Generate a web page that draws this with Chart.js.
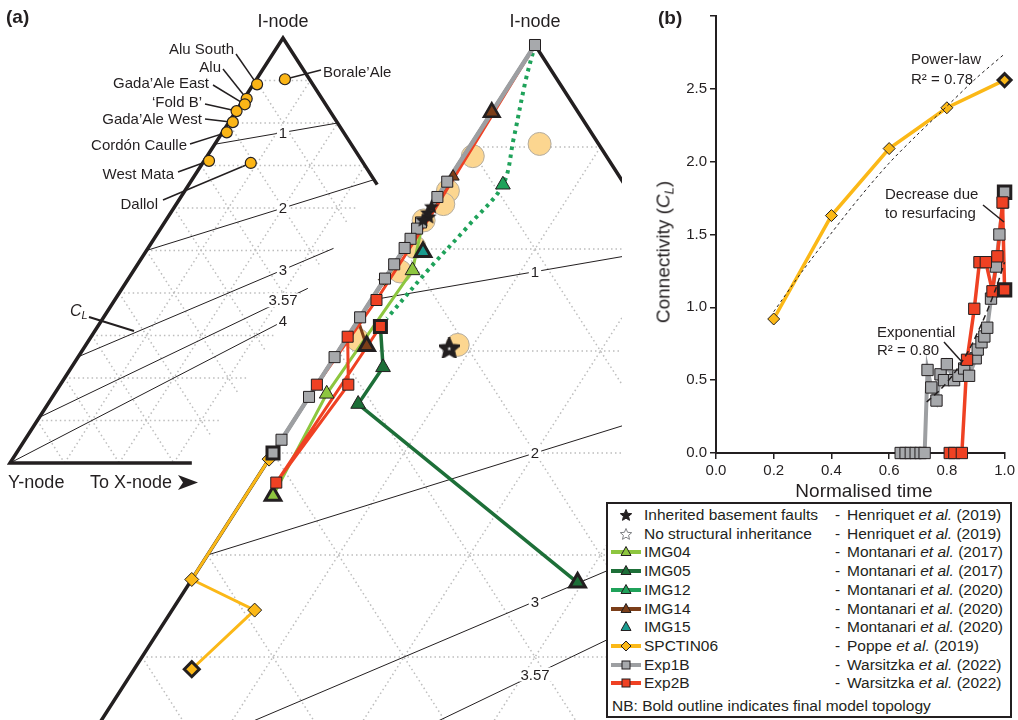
<!DOCTYPE html>
<html>
<head>
<meta charset="utf-8">
<title>Fault network connectivity</title>
<script src="https://cdn.jsdelivr.net/npm/chart.js@4.4.1/dist/chart.umd.min.js"></script>
<style>
  body { margin: 0; background: #fff; }
  #fig { position: relative; width: 1018px; height: 720px; overflow: hidden; font-family: "Liberation Sans", Arial, sans-serif; color: #231f20; }
  #fig canvas { position: absolute; }
  .t { position: absolute; white-space: nowrap; font-size: 15px; line-height: 1; }
  #legend { position: absolute; left: 606px; top: 502px; width: 402px; height: 212px; border: 2px solid #231f20; background: #fff; }
  #legend svg { position: absolute; }
  sub { font-size: 0.68em; vertical-align: -0.3em; line-height: 0; }
</style>
</head>
<body>
<div id="fig">
  <canvas id="bigTri" width="622" height="720" style="left:0;top:0"></canvas>
  <canvas id="smallTri" width="400" height="500" style="left:0;top:0"></canvas>
  <canvas id="connChart" width="378" height="500" style="left:640px;top:0"></canvas>
  <div id="legend"></div>
</div>
<script>
// ---------- panel (a): node proportions in %, each point is [I, Y, X] ----------
const naturalNames = ["Borale\u2019Ale", "Alu South", "Alu", "Gada\u2019Ale East", "\u2018Fold B\u2019",
  "Gada\u2019Ale West", "Cord\u00f3n Caulle", "West Mata", "Dallol"];
const naturalNodes = [[90.3, 4.5, 5.2], [89.1, 10.2, 0.7], [85.7, 13.8, 0.5], [84.4, 14.8, 0.8], [82.8, 17.1, 0.1],
  [80.2, 19.1, 0.7], [77.8, 21.4, 0.8], [71.1, 28.0, 0.9], [70.6, 20.6, 8.8]];
const inheritedFaults = [[84.2, 15.8, 0], [83.6, 16.4, 0], [83.2, 16.5, 0.3], [82.9, 17.1, 0]];
const noInheritance = [[70.3, 21.4, 8.3]];
const img04 = [[83.0, 17.0, 0], [77.9, 20.4, 1.7], [65.8, 33.0, 1.2], [55.8, 42.1, 2.1]];
const img05 = [[72.4, 25.6, 2.0], [68.4, 27.4, 4.2], [64.8, 31.1, 4.1], [47.3, 23.1, 29.6]];
const img12 = [[100, 0, 0], [96.6, 2.4, 1.0], [90.7, 6.3, 3.0], [86.3, 9.3, 4.4], [82.4, 13.8, 3.8], [78.1, 19.0, 2.9], [73.2, 24.7, 2.1]];
const img14 = [[100, 0, 0], [93.4, 6.6, 0], [87.1, 12.7, 0.2], [73.0, 27.0, 0], [70.5, 27.6, 1.9]];
const img15 = [[79.7, 18.7, 1.6]];
const spctin06 = [[77.0, 23.0, 0], [59.4, 40.6, 0], [47.6, 52.4, 0], [44.6, 49.1, 6.3], [38.8, 56.8, 4.4]];
const exp1b = [[100, 0, 0], [86.6, 13.4, 0], [85.1, 14.9, 0], [82.6, 17.4, 0], [82.0, 18.0, 0], [81.0, 19.0, 0], [80.1, 19.9, 0],
  [78.5, 21.5, 0], [77.1, 22.9, 0], [73.3, 26.7, 0], [69.4, 30.6, 0], [65.5, 34.5, 0], [61.3, 38.7, 0], [60.0, 40.0, 0]];
const exp2b = [[100, 0, 0], [84.0, 15.6, 0.4], [75.0, 24.6, 0.4], [66.7, 33.3, 0], [71.4, 28.6, 0], [66.7, 30.9, 2.4],
  [57.1, 41.2, 1.7], [72.4, 25.6, 2.0]];
const clSmall = [1, 2, 3, 3.57, 4];
const clBig = [1, 2, 3, 3.57];

// ---------- panel (b): connectivity through normalised time ----------
const spcTime = [0.2, 0.4, 0.6, 0.8, 1.0];
const spcCL = [0.92, 1.63, 2.09, 2.37, 2.56];
const exp1bTime = [0.64, 0.657, 0.675, 0.692, 0.709, 0.723, 0.733, 0.746, 0.764, 0.778, 0.79, 0.80, 0.825, 0.84,
  0.86, 0.877, 0.90, 0.907, 0.92, 0.93, 0.94, 0.953, 0.97, 0.982, 0.995, 1.0];
const exp1bCL = [0, 0, 0, 0, 0, 0, 0.57, 0.45, 0.36, 0.54, 0.50, 0.61, 0.50, 0.53, 0.58, 0.53, 0.65, 0.71, 0.76,
  0.80, 0.86, 1.06, 1.28, 1.50, 1.72, 1.79];
const exp2bTime = [0.81, 0.826, 0.852, 0.87, 0.895, 0.913, 0.935, 0.958, 0.975, 0.993, 1.0];
const exp2bCL = [0, 0, 0, 0.64, 0.99, 1.31, 1.31, 1.11, 1.35, 1.72, 1.12];
const powerTime = [0.2, 0.3, 0.4, 0.5, 0.6, 0.7, 0.8, 0.9, 1.0];
const powerCL = [0.97, 1.25, 1.51, 1.76, 1.99, 2.19, 2.38, 2.57, 2.74];
const expoTime = [0.73, 0.78, 0.83, 0.88, 0.93, 0.97, 1.0];
const expoCL = [0.35, 0.44, 0.56, 0.72, 0.93, 1.13, 1.31];

const FONT = '"Liberation Sans", Arial, sans-serif';
const INK = "#231f20";
Chart.defaults.font.family = FONT;
Chart.defaults.color = INK;

const col = {
  img04: "#8dc63f", img05: "#1d6f38", img12: "#1fa25a", img14: "#7b3e19", img15: "#1a9b8f",
  spc: "#fbb817", exp1b: "#9d9fa2", exp2b: "#ef4123", grid: "#bdbdbd"
};

// ternary -> cartesian (Y-node at 0,0, X-node at 1,0, I-node at 0.5,1)
function pt(p) { return { x: p[2] / 100 + p[0] / 200, y: p[0] / 100 }; }

function lineDs(points, color, width, dash, extra) {
  return Object.assign({ data: points.map(pt), showLine: true, borderColor: color, borderWidth: width,
    borderDash: dash || [], pointRadius: 0, fill: false, tension: 0, clip: false }, extra || {});
}
function markerDs(points, style, fill, border, radius, bw) {
  return { data: points.map(pt), showLine: false, pointStyle: style, pointRadius: radius,
    pointBackgroundColor: fill, pointBorderColor: border, pointBorderWidth: bw, clip: false };
}
function starImg(size, fill, stroke, lw) {
  const c = document.createElement("canvas");
  c.width = c.height = size;
  const g = c.getContext("2d");
  const r = size / 2 - lw / 2 - 0.5, r2 = r * 0.45, cx = size / 2, cy = size / 2 + 0.8;
  g.beginPath();
  for (let i = 0; i < 10; i++) {
    const a = -Math.PI / 2 + i * Math.PI / 5, rr = i % 2 ? r2 : r;
    g.lineTo(cx + rr * Math.cos(a), cy + rr * Math.sin(a));
  }
  g.closePath();
  g.fillStyle = fill; g.fill();
  if (lw) { g.lineWidth = lw; g.strokeStyle = stroke; g.lineJoin = "miter"; g.stroke(); }
  return c;
}

// contour of constant C_L = 4(Y+X)/(I+Y): from the I-Y edge to the I-X edge, or to a cut at X = xClip
function clSegment(c, xClip) {
  const start = [100 - 25 * c, 25 * c, 0];
  const xr = c / (4 + c);
  let end;
  if (xClip === undefined || xr <= xClip) end = [100 * (1 - xr), 0, 100 * xr];
  else { const Y = (c - (4 + c) * xClip) / 4; end = [100 * (1 - xClip - Y), 100 * Y, 100 * xClip]; }
  return [start, end];
}
function gridSegments(xCut) {
  const segs = [];
  for (let k = 1; k <= 9; k++) {
    const f = k / 10, xe = Math.min(xCut, 1 - f);
    segs.push([[f * 100, (1 - f) * 100, 0], [f * 100, (1 - f - xe) * 100, xe * 100]]);       // constant I
    segs.push([[(1 - f) * 100, f * 100, 0], [(1 - f - xe) * 100, f * 100, xe * 100]]);       // constant Y
    if (f < xCut) segs.push([[0, (1 - f) * 100, f * 100], [(1 - f) * 100, 0, f * 100]]);     // constant X
  }
  return segs;
}
function withOrder(list) { const n = list.length; list.forEach((d, i) => d.order = n - i); return list; }

function clLabelPlugin(id, values) {
  return {
    id: id,
    afterDatasetsDraw(chart) {
      const ctx = chart.ctx, xs = chart.scales.x, ys = chart.scales.y;
      ctx.save();
      ctx.font = "15px " + FONT; ctx.textAlign = "center"; ctx.textBaseline = "middle";
      values.forEach(c => {
        const yf = c / (8 + c), p = pt([100 - 200 * yf, 100 * yf, 100 * yf]);
        const px = xs.getPixelForValue(p.x), py = ys.getPixelForValue(p.y);
        const w = ctx.measureText(String(c)).width + 4;
        ctx.fillStyle = "#fff"; ctx.fillRect(px - w / 2, py - 7, w, 14);
        ctx.fillStyle = INK; ctx.fillText(String(c), px, py + 1);
      });
      ctx.restore();
    }
  };
}
const quietOpts = (xmin, xmax, ymin, ymax) => ({
  responsive: false, animation: false, events: [], layout: { padding: 0, autoPadding: false },
  plugins: { legend: { display: false }, tooltip: { enabled: false } },
  scales: { x: { type: "linear", display: false, min: xmin, max: xmax },
            y: { type: "linear", display: false, min: ymin, max: ymax } }
});

// ---------- large, zoomed ternary diagram ----------
const bigSets = [];
gridSegments(1).forEach(s => bigSets.push(lineDs(s, col.grid, 1.5, [1.5, 3])));
clBig.forEach(c => bigSets.push(lineDs(clSegment(c), INK, 1)));
bigSets.push(markerDs(naturalNodes, "circle", "#fcd690", "#b3aca0", 11.5, 1));
bigSets.push(lineDs([[0, 100, 0], [100, 0, 0], [0, 0, 100]], INK, 3.5));
bigSets.push(lineDs(img12, col.img12, 4, [3.5, 4.5], { tension: 0.35 }));
bigSets.push(lineDs(img05, col.img05, 3.5));
bigSets.push(lineDs(img04, col.img04, 3));
bigSets.push(lineDs(img14, col.img14, 3));
bigSets.push(lineDs(spctin06, col.spc, 3));
bigSets.push(lineDs(exp2b, col.exp2b, 3));
bigSets.push(lineDs(exp1b, col.exp1b, 4.5));
bigSets.push(markerDs(img12, "triangle", col.img12, INK, [0, 0, 0, 8.5, 0, 0, 0], 1));
bigSets.push(markerDs(img05, "triangle", col.img05, INK, [0, 8.5, 8.5, 9], [1, 1, 1, 3]));
bigSets.push(markerDs(img04, "triangle", col.img04, INK, [0, 8.5, 8.5, 9], [1, 1, 1, 3]));
bigSets.push(markerDs(img14, "triangle", col.img14, INK, [0, 9, 7, 0, 9], [1, 2.5, 1, 1, 3]));
bigSets.push(markerDs(img15, "triangle", col.img15, INK, 9, 3));
bigSets.push(markerDs(spctin06, "rectRot", col.spc, INK, [6, 7, 7, 7, 7.5], [1, 1, 1, 1, 3]));
bigSets.push(markerDs(exp2b, "rect", col.exp2b, INK, [0, 0, 7.8, 7.8, 7.8, 7.8, 7.8, 8.5], [1, 1, 1, 1, 1, 1, 1, 3]));
bigSets.push(markerDs(exp1b, "rect", "#a7a9ac", INK, exp1b.map((p, i) => i === exp1b.length - 1 ? 8.5 : 7.8),
  exp1b.map((p, i) => i === exp1b.length - 1 ? 3 : 1)));
bigSets.push(markerDs(inheritedFaults, starImg(17, INK, INK, 0), INK, INK, 8, 0));
bigSets.push(markerDs(noInheritance, starImg(21, "#fff", INK, 4.5), "#fff", INK, 10, 0));

new Chart("bigTri", {
  type: "scatter",
  data: { datasets: withOrder(bigSets) },
  options: quietOpts(120 / 1310, 742 / 1310, 1 - 675 / 1020, 1 + 45 / 1020),
  plugins: [clLabelPlugin("clBig", clBig)]
});

// ---------- small, full ternary diagram (cut at X = 1/3) ----------
const natLeaders = [ // label anchor -> leader start (page pixels)
  [321, 70], [236, 54], [223, 69], [213, 85], [205, 104], [205, 119], [190, 144], [178, 172], [163, 200]
];
const smallSets = [];
gridSegments(1 / 3).forEach(s => smallSets.push(lineDs(s, col.grid, 1.5, [1.5, 3])));
clSmall.forEach(c => smallSets.push(lineDs(clSegment(c, 0.34), INK, 1)));
smallSets.push(lineDs([[65.5, 0, 34.5], [100, 0, 0], [0, 100, 0], [0, 66.7, 33.3]], INK, 3.5));
smallSets.push(markerDs(naturalNodes, "circle", "#fbb516", INK, 5.5, 1.2));

const smallExtras = {
  id: "smallExtras",
  beforeDatasetsDraw(chart) {
    const ctx = chart.ctx, xs = chart.scales.x, ys = chart.scales.y;
    ctx.save();
    ctx.strokeStyle = INK; ctx.lineWidth = 1.5;
    naturalNodes.forEach((p, i) => {
      const q = pt(p);
      ctx.beginPath();
      ctx.moveTo(natLeaders[i][0], natLeaders[i][1]);
      ctx.lineTo(xs.getPixelForValue(q.x), ys.getPixelForValue(q.y));
      ctx.stroke();
    });
    ctx.lineWidth = 2;
    ctx.beginPath(); ctx.moveTo(89, 317); ctx.lineTo(134, 331); ctx.stroke();
    ctx.restore();
  }
};
new Chart("smallTri", {
  type: "scatter",
  data: { datasets: withOrder(smallSets) },
  options: quietOpts(-10 / 546, 390 / 546, -37 / 425, 463 / 425),
  plugins: [smallExtras, clLabelPlugin("clSmall", clSmall)]
});

// ---------- panel (b) ----------
const xy = (xs, ys) => xs.map((x, i) => ({ x: x, y: ys[i] }));
const lastBold = (n, a, b) => Array.from({ length: n }, (_, i) => i === n - 1 ? b : a);
const connSets = [
  { data: xy(spcTime, spcCL), showLine: true, borderColor: col.spc, borderWidth: 3.5, pointStyle: "rectRot",
    pointRadius: lastBold(5, 6, 6.5), pointBackgroundColor: col.spc, pointBorderColor: INK,
    pointBorderWidth: lastBold(5, 1, 3), clip: false },
  { data: xy(exp1bTime, exp1bCL), showLine: true, borderColor: col.exp1b, borderWidth: 4, pointRadius: 0, clip: false },
  { data: xy(exp2bTime, exp2bCL), showLine: true, borderColor: col.exp2b, borderWidth: 3.5, pointRadius: 0, clip: false },
  { data: xy(exp1bTime, exp1bCL), showLine: false, pointStyle: "rect", pointRadius: lastBold(exp1bTime.length, 8, 8.8),
    pointBackgroundColor: "#a7a9ac", pointBorderColor: INK, pointBorderWidth: lastBold(exp1bTime.length, 1, 3), clip: false },
  { data: xy(exp2bTime, exp2bCL), showLine: false, pointStyle: "rect", pointRadius: lastBold(exp2bTime.length, 8, 8.8),
    pointBackgroundColor: col.exp2b, pointBorderColor: INK, pointBorderWidth: lastBold(exp2bTime.length, 1, 3), clip: false },
  { data: xy(powerTime, powerCL), showLine: true, borderColor: INK, borderWidth: 1, borderDash: [3, 3],
    pointRadius: 0, tension: 0.3, clip: false },
  { data: xy(expoTime, expoCL), showLine: true, borderColor: INK, borderWidth: 1.5, borderDash: [6, 4],
    pointRadius: 0, tension: 0.3, clip: false }
];
const connNotes = {
  id: "connNotes",
  afterDatasetsDraw(chart) {
    const ctx = chart.ctx;
    ctx.save(); ctx.strokeStyle = INK; ctx.lineWidth = 1.5;
    [[983, 205, 1004, 222], [944, 342, 962, 362]].forEach(l => {
      ctx.beginPath(); ctx.moveTo(l[0] - 640, l[1]); ctx.lineTo(l[2] - 640, l[3]); ctx.stroke();
    });
    ctx.restore();
  }
};
const axisGrid = { drawOnChartArea: false, drawTicks: true, tickLength: 6, color: INK, lineWidth: 1.5 };
new Chart("connChart", {
  type: "scatter",
  data: { datasets: withOrder(connSets) },
  options: {
    responsive: false, animation: false, events: [],
    layout: { padding: { left: 36, right: 10, top: 16, bottom: 17 } },
    plugins: { legend: { display: false }, tooltip: { enabled: false } },
    scales: {
      x: { type: "linear", min: 0, max: 1,
        ticks: { stepSize: 0.2, callback: v => v.toFixed(1), font: { size: 15 }, padding: 3, maxRotation: 0, color: INK },
        grid: axisGrid, border: { display: true, color: INK, width: 2 },
        afterFit(s) { s.height = 30; } },
      y: { type: "linear", min: 0, max: 3,
        ticks: { stepSize: 0.5, callback: v => v > 2.9 ? "" : v.toFixed(1), font: { size: 15 }, padding: 3, color: INK },
        grid: axisGrid, border: { display: true, color: INK, width: 2 },
        afterFit(s) { s.width = 40; } }
    }
  },
  plugins: [connNotes]
});

// ---------- text ----------
const fig = document.getElementById("fig");
function addText(html, x, y, o) {
  o = o || {};
  const d = document.createElement("div");
  d.className = "t"; d.innerHTML = html;
  d.style.left = x + "px"; d.style.top = y + "px";
  d.style.fontSize = (o.size || 15) + "px";
  if (o.bold) d.style.fontWeight = "bold";
  const ax = o.align === "right" ? "-100%" : o.align === "center" ? "-50%" : "0";
  d.style.transform = "translate(" + ax + ",-50%)" + (o.rot ? " rotate(" + o.rot + "deg)" : "");
  (o.parent || fig).appendChild(d);
  return d;
}
addText("(a)", 6, 16, { size: 19, bold: true });
addText("(b)", 658, 17, { size: 19, bold: true });
addText("I-node", 283, 21, { size: 18, align: "center" });
addText("I-node", 535, 21, { size: 18, align: "center" });
addText("Y-node", 8, 482, { size: 18 });
addText("To X-node", 90, 482, { size: 18 });
fig.insertAdjacentHTML("beforeend",
  '<svg style="position:absolute;left:178px;top:475px" width="20" height="15"><path d="M0,0 L20,7.5 L0,15 L5,7.5 Z" fill="' + INK + '"/></svg>');
addText("<i>C</i><sub><i>L</i></sub>", 70, 311, { size: 16 });
const natText = [[323, 71, "left"], [234, 48, "right"], [221, 66, "right"], [209, 82, "right"], [202, 101, "right"],
  [202, 118, "right"], [187, 144, "right"], [174, 173, "right"], [158, 203, "right"]];
naturalNames.forEach((n, i) => addText(n, natText[i][0], natText[i][1], { align: natText[i][2] }));

addText("Normalised time", 864, 490, { size: 19, align: "center" });
addText("Connectivity (<i>C</i><sub><i>L</i></sub>)", 663, 252, { size: 19, align: "center", rot: -90 });
addText("Power-law", 911, 58);
addText("R\u00b2 = 0.78", 911, 78);
addText("Decrease due", 885, 193);
addText("to resurfacing", 885, 212);
addText("Exponential", 877, 331);
addText("R\u00b2 = 0.80", 877, 349);

// ---------- legend ----------
const legendRows = [
  ["star", INK, INK, "Inherited basement faults", "Henriquet", "2019"],
  ["star", "#fff", "#808285", "No structural inheritance", "Henriquet", "2019"],
  ["tri", col.img04, col.img04, "IMG04", "Montanari", "2017"],
  ["tri", col.img05, col.img05, "IMG05", "Montanari", "2017"],
  ["tri", col.img12, col.img12, "IMG12", "Montanari", "2020"],
  ["tri", col.img14, col.img14, "IMG14", "Montanari", "2020"],
  ["tri", col.img15, null, "IMG15", "Montanari", "2020"],
  ["dia", col.spc, col.spc, "SPCTIN06", "Poppe", "2019"],
  ["sq", "#a7a9ac", col.exp1b, "Exp1B", "Warsitzka", "2022"],
  ["sq", col.exp2b, col.exp2b, "Exp2B", "Warsitzka", "2022"]
];
const legend = document.getElementById("legend");
function starPath(cx, cy, r) {
  let s = "";
  for (let i = 0; i < 10; i++) {
    const a = -Math.PI / 2 + i * Math.PI / 5, rr = i % 2 ? r * 0.45 : r;
    s += (i ? " " : "") + (cx + rr * Math.cos(a)).toFixed(2) + "," + (cy + rr * Math.sin(a)).toFixed(2);
  }
  return s;
}
legendRows.forEach((r, i) => {
  const y = 11 + i * 18.7;
  let svg = '<svg width="30" height="16" style="left:3px;top:' + (y - 8) + 'px">';
  if (r[2] && r[0] !== "star") svg += '<line x1="0" y1="8" x2="30" y2="8" stroke="' + r[2] + '" stroke-width="4"/>';
  if (r[0] === "star") svg += '<polygon points="' + starPath(15, 8.5, 6) + '" fill="' + r[1] + '" stroke="' + r[2] + '" stroke-width="1"/>';
  if (r[0] === "tri") svg += '<polygon points="15,2.5 20,11.5 10,11.5" fill="' + r[1] + '" stroke="' + INK + '" stroke-width="1"/>';
  if (r[0] === "dia") svg += '<polygon points="15,3 20,8 15,13 10,8" fill="' + r[1] + '" stroke="' + INK + '" stroke-width="1"/>';
  if (r[0] === "sq") svg += '<rect x="11" y="4" width="8" height="8" fill="' + r[1] + '" stroke="' + INK + '" stroke-width="1"/>';
  svg += "</svg>";
  legend.insertAdjacentHTML("beforeend", svg);
  addText(r[3], 36, y, { size: 15.5, parent: legend });
  addText("-", 227, y, { size: 15.5, parent: legend });
  addText(r[4] + " <i>et al.</i> (" + r[5] + ")", 239, y, { size: 15.5, parent: legend });
});
addText("NB: Bold outline indicates final model topology", 4, 202, { size: 15.5, parent: legend });
</script>
</body>
</html>
